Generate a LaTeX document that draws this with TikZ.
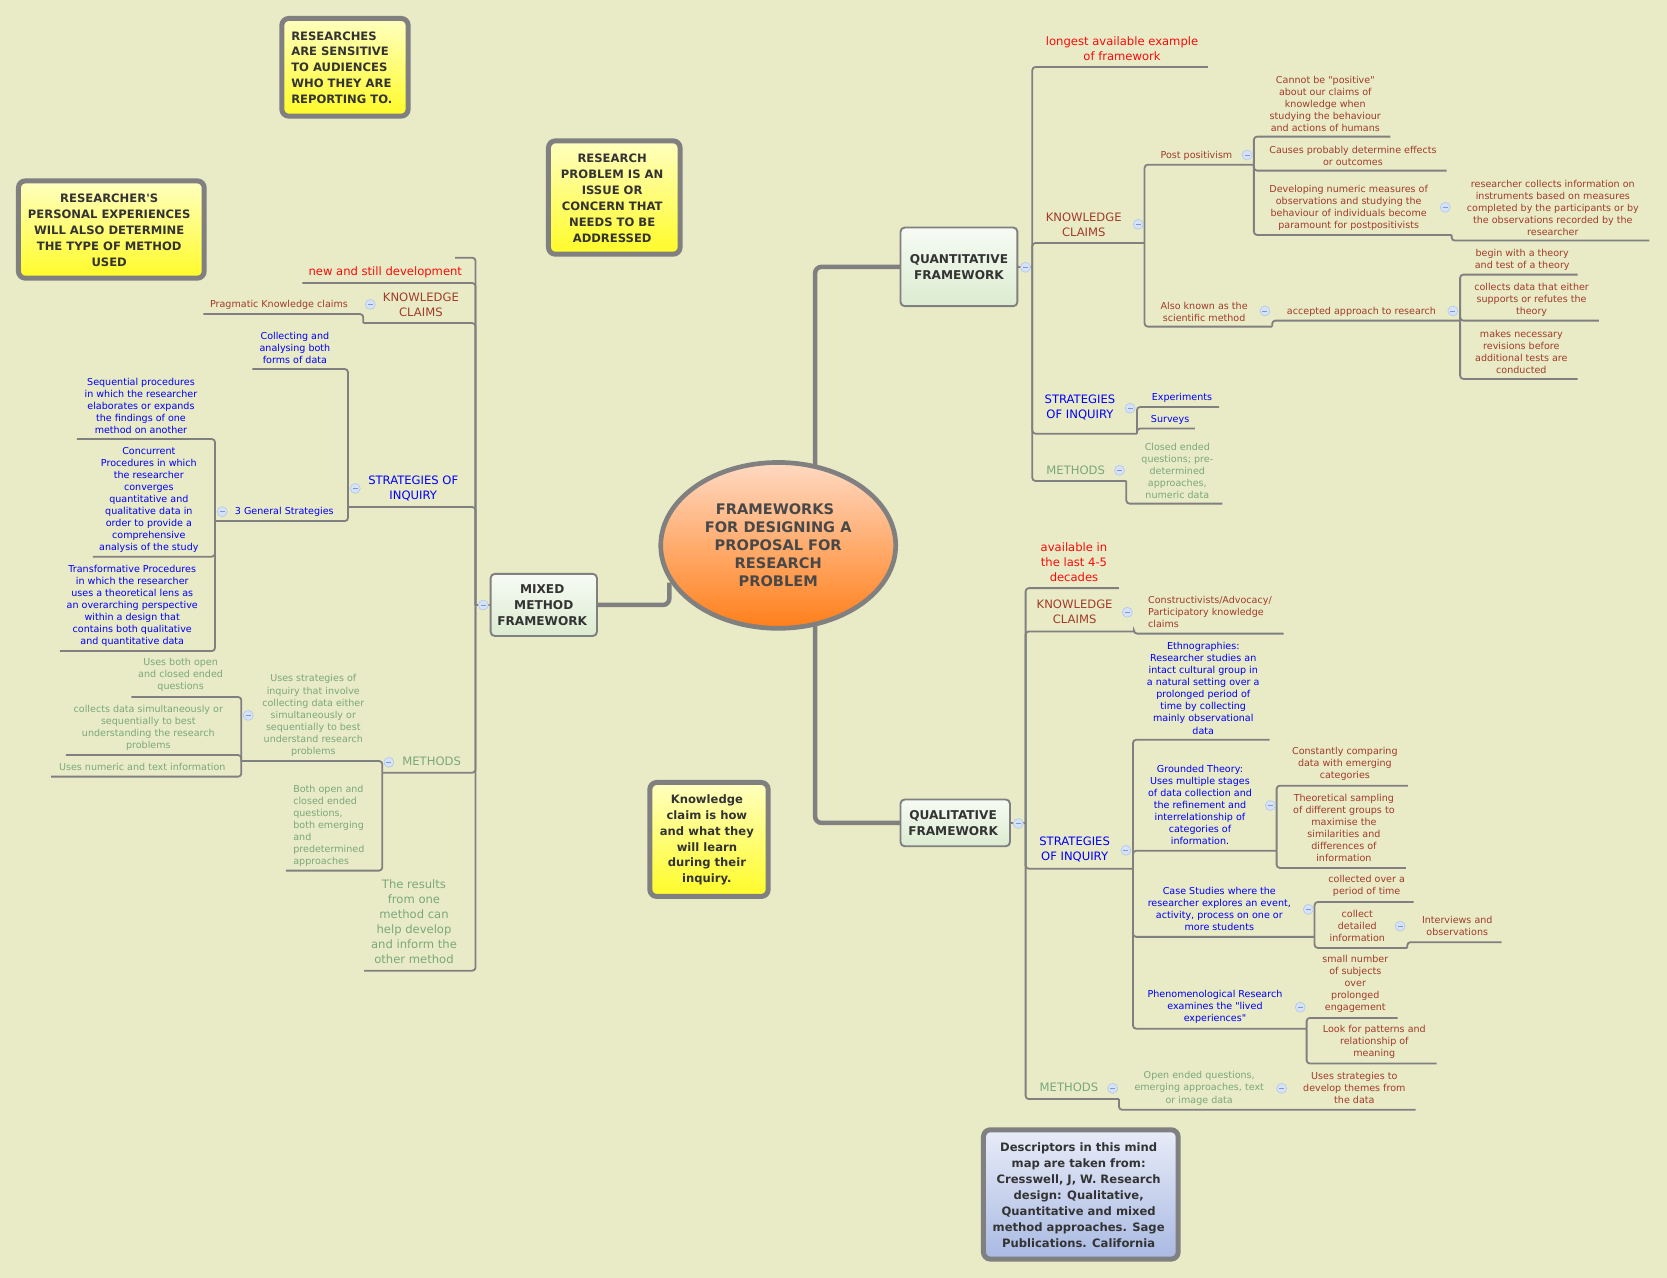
\documentclass[tikz,border=0pt]{standalone}
\usepackage{fontspec}
\newfontfamily\plainf{DejaVu Sans}
\AtBeginDocument{\plainf}
\usetikzlibrary{shapes.geometric}
\definecolor{bgc}{HTML}{E9EBC6}
\definecolor{lnc}{HTML}{808080}
\definecolor{bro}{HTML}{A03C2A}
\definecolor{blu}{HTML}{0000FA}
\definecolor{rdd}{HTML}{FA0A0A}
\definecolor{grn}{HTML}{7BA77B}
\definecolor{dk}{HTML}{333333}
\definecolor{mkb}{HTML}{B4C8EE}
\definecolor{mkf}{HTML}{D5E2F8}
\definecolor{mkd}{HTML}{7F9AD0}
\definecolor{fwt}{HTML}{F7FBF4}
\definecolor{fwb}{HTML}{DBEBD0}
\definecolor{noteT}{HTML}{FFFFC0}
\definecolor{noteB}{HTML}{FFFB28}
\definecolor{noteBT}{HTML}{E8ECF8}
\definecolor{noteBB}{HTML}{A9B9E2}
\definecolor{cTop}{HTML}{FFD9C2}
\definecolor{cBot}{HTML}{FF7F1A}
\definecolor{cTx}{HTML}{484848}
\tikzset{
 br/.style={draw=lnc,line width=1.7pt,rounded corners=3pt},
 thk/.style={draw=lnc,line width=4.2pt,rounded corners=6pt},
 sm/.style={inner sep=0pt,outer sep=0pt,align=center,yshift=-0.8pt,font=\fontsize{9}{11.3}\selectfont},
 md/.style={inner sep=0pt,outer sep=0pt,align=center,yshift=-0.7pt,font=\fontsize{10.9}{14.1}\selectfont},
 br1/.style={text=bro},bl1/.style={text=blu},gr1/.style={text=grn},rd1/.style={text=rdd},
 mk/.style={circle,draw=mkb,fill=mkf,line width=.6pt,minimum size=9.4pt,inner sep=0pt,outer sep=0pt,
   path picture={\draw[draw=mkd,line width=.7pt]([xshift=-2.4pt]path picture bounding box.center)--([xshift=2.4pt]path picture bounding box.center);}},
 fw/.style={draw=lnc,line width=1.8pt,rounded corners=4pt,top color=fwt,bottom color=fwb,
   inner sep=0pt,outer sep=0pt,align=center,text=dk,font=\fontsize{11.4}{15}\selectfont\bfseries},
 note/.style={draw=lnc,line width=4.7pt,rounded corners=6.5pt,top color=noteT,bottom color=noteB,
   inner sep=0pt,outer sep=0pt},
 ntx/.style={inner sep=0pt,outer sep=0pt,align=center,yshift=-0.4pt,text=dk,font=\fontsize{10.9}{15}\selectfont\bfseries},
}
\begin{document}
\begin{tikzpicture}[x=1pt,y=-1pt]
\useasboundingbox (0,0) rectangle (1568,1202);
\fill[bgc] (0,0) rectangle (1568,1202);
% end points of the topic underlines
\foreach \n/\x/\y in {
 qj/971/251.4,qlong/1136.2/63,qkc/1076.6/228.5,qsi/1069.4/407.9,qme/1059.4/452.4,qme2/1149.8/473.7,
 qpp/1179.4/154.9,qam/1196.6/307.2,qaa/1373.4/301.6,qc1/1307.8/128.5,qc2/1360.6/160.5,qc3/1365.4/221,qc4/1551.4/226.3,
 qa1/1483.8/258.3,qa2/1503.8/301.6,qa3/1483.8/356.4,qe1/1146.6/382.8,qe2/1123.8/403.1,
 mj/447.3/569,ml1/428.2/242.4,ml2/284.3/266.2,lkc/341.7/303.9,lkc2/191.2/295.4,lst/327.3/476.9,lme/359.6/726.8,lre/342.6/913,
 lcol/237.3/347.1,lgen/202.2/490.1,lg1/72.4/412.9,lg2/87.4/523.6,lg3/56.4/612.4,
 lus/227/715.8,lbo/269/818.9,lu1/123.5/655.6,lu2/62/710.2,lu3/48/730.5,
 uj/964.7/774,uav/1052.5/553.2,ukc/1066.6/593.9,ukc2/1207.4/596,ust/1065.7/817.1,ume/1052.5/1033.8,ume2/1331.5/1043.9,
 ueth/1194.2/695.8,ugr/1200.8/800.2,uca/1236.5/881.2,uph/1229/967.6,
 ug1/1324.3/739,ug2/1322.4/816.4,uc1/1329.7/848.4,uc2/1323.7/891.6,uc3/1412.4/886.2,up1/1314.6/957.5,up2/1351.3/1000.3,
 cq/766.7/438,cu/766.7/589,cx/629.6/548}
 {\coordinate (\n) at (\x,\y);}
% main nodes
\node[ellipse,draw=lnc,line width=4.4pt,top color=cTop,bottom color=cBot,minimum width=221pt,minimum height=156pt,inner sep=0pt,outer sep=0pt,align=center,text=cTx,font=\fontsize{13.7}{16.8}\selectfont\bfseries] (C) at (732,513) {FRAMEWORKS\hspace*{6pt}\\FOR DESIGNING A\hspace*{6pt}\\PROPOSAL FOR\hspace*{6pt}\\RESEARCH\hspace*{6pt}\\ PROBLEM};
\node[fw,minimum width=110pt,minimum height=74pt] (Q) at (902,251) {QUANTITATIVE\\FRAMEWORK};
\node[fw,minimum width=103pt,minimum height=44pt] (U) at (898.5,774) {QUALITATIVE\hspace*{4pt}\\FRAMEWORK\hspace*{4pt}};
\node[fw,minimum width=100pt,minimum height=58.5pt] (X) at (511.5,569) {MIXED\hspace*{3pt}\\METHOD\hspace*{3pt}\\FRAMEWORK\hspace*{3pt}};
% connectors
\draw[thk] (cq) |- (Q.west);
\draw[thk] (cu) |- (U.west);
\draw[thk] (cx) |- (X.east);
\draw[br] (Q.east) -- (qj);
\draw[br] (U.east) -- (uj);
\draw[br] (X.west) -- (mj);
\foreach \a/\b in {qj/qlong,qj/qkc,qj/qsi,qj/qme,qme/qme2,qkc/qpp,qkc/qam,qam/qaa,qpp/qc1,qpp/qc2,qpp/qc3,qc3/qc4,
 qaa/qa1,qaa/qa2,qaa/qa3,qsi/qe1,qsi/qe2,
 mj/ml1,mj/ml2,mj/lkc,lkc/lkc2,mj/lst,mj/lme,mj/lre,lst/lcol,lst/lgen,lgen/lg1,lgen/lg2,lgen/lg3,lme/lus,lme/lbo,lus/lu1,lus/lu2,lus/lu3,
 uj/uav,uj/ukc,ukc/ukc2,uj/ust,uj/ume,ume/ume2,ust/ueth,ust/ugr,ust/uca,ust/uph,ugr/ug1,ugr/ug2,uca/uc1,uca/uc2,uc2/uc3,uph/up1,uph/up2}
 {\draw[br] (\a) |- (\b);}
% quantitative texts
\node[md,rd1] (t1) at (1055.4,45.2) {longest available example\\ of framework};
\node[md,br1] (t2) at (1019.4,210.9) {KNOWLEDGE\\CLAIMS};
\node[sm,br1] (t3) at (1125.4,146) {Post positivism};
\node[sm,br1] (t4) at (1246.6,96.8) {Cannot be "positive"\\about our claims of\\knowledge when\\studying the behaviour\\and actions of humans};
\node[sm,br1] (t5) at (1272.6,146) {Causes probably determine effects\\or outcomes};
\node[sm,br1] (t6) at (1268.6,194.8) {Developing numeric measures of\\observations and studying the\\behaviour of individuals become\\paramount for postpositivists};
\node[sm,br1] (t7) at (1460.6,194.8) {researcher collects information on\\instruments based on measures\\completed by the participants or by\\the observations recorded by the\\researcher};
\node[sm,br1] (t8) at (1132.6,292.7) {Also known as the\\scientific method};
\node[sm,br1] (t9) at (1280.6,292.7) {accepted approach to research};
\node[sm,br1] (t10) at (1431.8,243.7) {begin with a theory\\and test of a theory};
\node[sm,br1] (t11) at (1440.6,281.4) {collects data that either\\supports or refutes the\\theory};
\node[sm,br1] (t12) at (1431,330.2) {makes necessary\\revisions before\\additional tests are\\conducted};
\node[md,bl1] (t13) at (1015.8,382.8) {STRATEGIES\\OF INQUIRY};
\node[sm,bl1] (t14) at (1111.8,373.6) {Experiments};
\node[sm,bl1] (t15) at (1100.6,394.2) {Surveys};
\node[md,gr1] (t16) at (1011.8,441.9) {METHODS};
\node[sm,gr1] (t17) at (1107.4,442.2) {Closed ended\\questions; pre-\\determined\\approaches,\\numeric data};
% qualitative texts
\node[md,rd1] (t20) at (1010.2,527.7) {available in\\the last 4-5\\decades};
\node[md,br1] (t21) at (1010.8,574.9) {KNOWLEDGE\\CLAIMS};
\node[sm,br1,align=left,anchor=west] (t22) at (1080,575) {Constructivists/Advocacy/\\Participatory knowledge\\claims};
\node[md,bl1] (t23) at (1010.8,798.7) {STRATEGIES\\OF INQUIRY};
\node[sm,bl1] (t24) at (1131.8,646.7) {Ethnographies:\\Researcher studies an\\intact cultural group in\\a natural setting over a\\prolonged period of\\time by collecting\\mainly observational\\data};
\node[sm,bl1] (t25) at (1128.7,756.7) {Grounded Theory:\\Uses multiple stages\\of data collection and\\the refinement and\\interrelationship of\\categories of\\information.};
\node[sm,br1] (t26) at (1265,718.1) {Constantly comparing\\data with emerging\\categories};
\node[sm,br1] (t27) at (1264.1,778.2) {Theoretical sampling\\of different groups to\\maximise the\\similarities and\\differences of\\information};
\node[sm,bl1] (t28) at (1146.9,854.4) {Case Studies where the\\researcher explores an event,\\activity, process on one or\\more students};
\node[sm,br1] (t29) at (1285.5,832.6) {collected over a\\period of time};
\node[sm,br1] (t30) at (1276.7,870.4) {collect\\detailed\\information};
\node[sm,br1] (t31) at (1370.7,870.2) {Interviews and\\observations};
\node[sm,bl1] (t32) at (1142.8,946.5) {Phenomenological Research\\examines the "lived\\experiences"};
\node[sm,br1] (t33) at (1274.8,924.9) {small number\\of subjects\\over\\prolonged\\engagement};
\node[sm,br1] (t34) at (1292.7,979.4) {Look for patterns and\\relationship of\\meaning};
\node[md,gr1] (t35) at (1005.5,1022.2) {METHODS};
\node[sm,gr1] (t36) at (1128,1022.9) {Open ended questions,\\emerging approaches, text\\or image data};
\node[sm,br1] (t37) at (1273.9,1022.9) {Uses strategies to\\develop themes from\\the data};
% mixed texts
\node[md,rd1] (t40) at (362.4,255.5) {new and still development};
\node[md,br1] (t41) at (395.9,286.2) {KNOWLEDGE\\CLAIMS};
\node[sm,br1] (t42) at (262.4,286.2) {Pragmatic Knowledge claims};
\node[md,bl1] (t43) at (388.7,459) {STRATEGIES OF\\INQUIRY};
\node[sm,bl1] (t44) at (277.4,326.6) {Collecting and\\analysing both\\forms of data};
\node[sm,bl1] (t45) at (267.4,480.9) {3 General Strategies};
\node[sm,bl1] (t46) at (132.6,381.4) {Sequential procedures\\in which the researcher\\elaborates or expands\\the findings of one\\method on another};
\node[sm,bl1] (t47) at (140,469.7) {Concurrent\\Procedures in which\\the researcher\\converges\\quantitative and\\qualitative data in\\order to provide a\\comprehensive\\analysis of the study};
\node[sm,bl1] (t48) at (124.4,568.7) {Transformative Procedures\\in which the researcher\\uses a theoretical lens as\\an overarching perspective\\within a design that\\contains both qualitative\\and quantitative data};
\node[md,gr1] (t49) at (406,715.7) {METHODS};
\node[sm,gr1] (t50) at (294.7,672.1) {Uses strategies of\\inquiry that involve\\collecting data either\\simultaneously or\\sequentially to best\\understand research\\problems};
\node[sm,gr1,align=left,anchor=west] (t51) at (275.9,775.6) {Both open and\\closed ended\\questions,\\both emerging\\and\\predetermined\\approaches};
\node[sm,gr1] (t52) at (169.9,634.2) {Uses both open\\and closed ended\\questions};
\node[sm,gr1] (t53) at (139.5,683.4) {collects data simultaneously or\\sequentially to best\\understanding the research\\problems};
\node[sm,gr1] (t54) at (133.8,721) {Uses numeric and text information};
\node[md,gr1] (t55) at (389.4,866.6) {The results\\from one\\method can\\help develop\\and inform the\\other method};
% collapse markers
\foreach \i/\x/\y in {1/964.6/251.4,2/1070.6/211,3/1173/145.8,4/1359.4/195,5/1189.8/292.5,6/1366.6/292.5,7/1063/384,8/1053/442.4,
 9/957.8/774.6,10/1060.4/575.9,11/1059/799.8,12/1194.9/757.7,13/1230.6/855.3,14/1317/871.1,15/1223/947.4,16/1046.6/1023.7,17/1205.5/1023.7,
 18/454.6/569.1,19/348.3/286.3,20/334.2/459.4,21/209.1/481.3,22/365.8/717,23/233.5/672.9}
 {\node[mk] (m\i) at (\x,\y) {};}
% notes
\node[note,minimum width=118.8pt,minimum height=91.9pt] (n1) at (324.5,63.3) {};
\node[ntx,align=left,anchor=west] (n1t) at ([xshift=-50.5pt]n1.center) {RESEARCHES\\ARE SENSITIVE\\TO AUDIENCES\\WHO THEY ARE\\REPORTING TO.};
\node[note,minimum width=174.7pt,minimum height=91.5pt] (n2) at (104.7,215.9) {};
\node[ntx] (n2t) at ([xshift=-2pt]n2.center) {RESEARCHER'S\\PERSONAL EXPERIENCES\\WILL ALSO DETERMINE\\THE TYPE OF METHOD\\USED};
\node[note,minimum width=123.8pt,minimum height=106.6pt] (n3) at (577.8,185.8) {};
\node[ntx] (n3t) at ([xshift=-2pt]n3.center) {RESEARCH\\PROBLEM IS AN\\ISSUE OR\\CONCERN THAT\\NEEDS TO BE\\ADDRESSED};
\node[note,minimum width=111.3pt,minimum height=107.2pt] (n4) at (666.9,789.6) {};
\node[ntx] (n4t) at ([xshift=-2pt]n4.center) {Knowledge\\claim is how\\and what they\\will learn\\during their\\inquiry.};
\node[note,minimum width=183.1pt,minimum height=121.6pt,top color=noteBT,bottom color=noteBB] (n5) at (1016.6,1123.5) {};
\node[ntx] (n5t) at ([xshift=-2pt]n5.center) {Descriptors in this mind\\map are taken from:\\Cresswell, J, W. Research\\design: Qualitative,\\Quantitative and mixed\\method approaches. Sage\\Publications. California};
\end{tikzpicture}
\end{document}
